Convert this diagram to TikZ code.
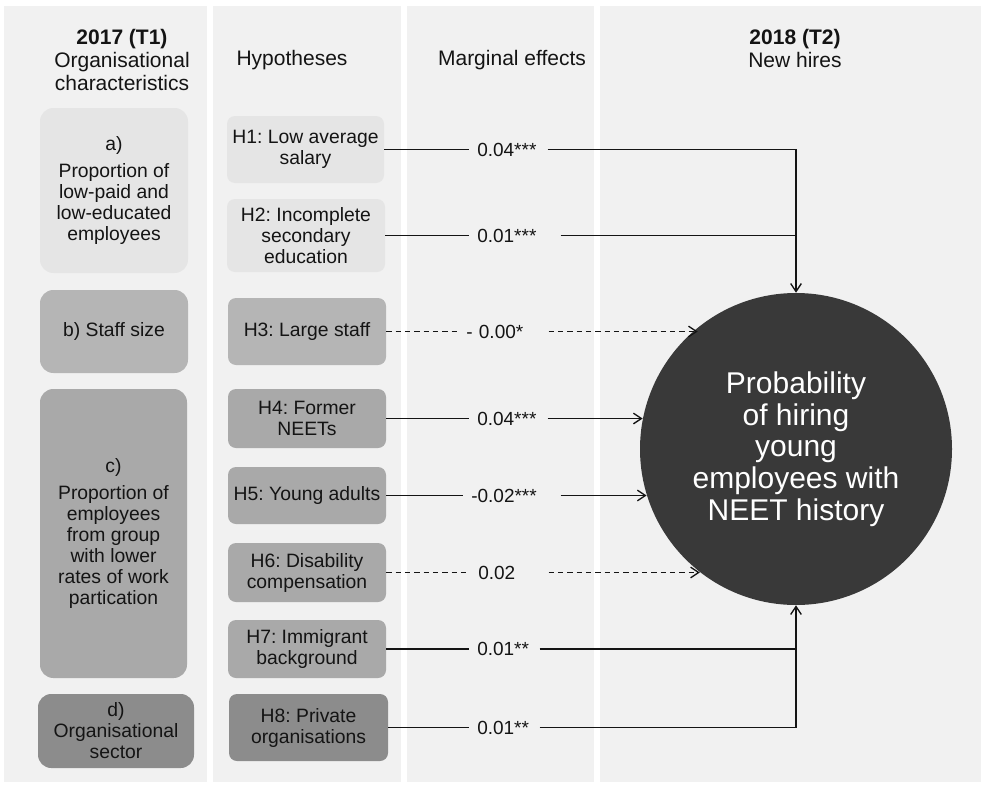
\documentclass[tikz,border=0pt]{standalone}
\usepackage{fontspec}
\setmainfont{Liberation Sans}
\frenchspacing
\usetikzlibrary{arrows.meta}
\definecolor{panel}{HTML}{F1F1F1}
\definecolor{boxA}{HTML}{E5E5E5}
\definecolor{boxB}{HTML}{B5B5B5}
\definecolor{boxC}{HTML}{A9A9A9}
\definecolor{boxD}{HTML}{8C8C8C}
\definecolor{circfill}{HTML}{393939}
\definecolor{ink}{HTML}{141414}
\tikzset{
  hbox/.style={rounded corners=6pt, align=center, inner sep=2pt, font=\fontsize{14.5}{15.75}\selectfont, text=ink},
  catbox/.style={hbox, rounded corners=10pt},
  headtxt/.style={align=center, font=\fontsize{15.75}{17}\selectfont, text=ink},
  lbl/.style={anchor=west, inner xsep=6pt, inner ysep=0pt, align=left, font=\fontsize{14.25}{15.75}\selectfont, text=ink},
  conn/.style={draw=ink, line width=1.1pt},
  dconn/.style={conn, dash pattern=on 4pt off 3pt},
  arr/.style={-{Straight Barb[length=6pt,width=8pt,line width=1pt]}},
}
\begin{document}
\begin{tikzpicture}[x=0.75pt,y=-0.75pt]
\useasboundingbox (0,0) rectangle (981,785);
\fill[white] (0,0) rectangle (981,785);
% column panels
\fill[panel] (4,6) rectangle (207,782);
\fill[panel] (213,6) rectangle (401,782);
\fill[panel] (407,6) rectangle (594,782);
\fill[panel] (600,6) rectangle (981,782);

% headings
\node[headtxt] (t1) at (122,60) {\textbf{2017 (T1)}\\Organisational\\characteristics};
\node[headtxt] (hyp) at (292,60) {Hypotheses};
\node[headtxt] (me) at (512,60) {Marginal effects};
\node[headtxt] (t2) at (795,48.5) {\textbf{2018 (T2)}\\New hires};

% category boxes
\node[catbox, fill=boxA, minimum width=111pt, minimum height=123.75pt] (ca) at (114,190.5)
  {a)\\[5pt]Proportion of\\low-paid and\\low-educated\\employees};
\node[catbox, fill=boxB, minimum width=111pt, minimum height=62.25pt] (cb) at (114,331.5)
  {b) Staff size};
\node[catbox, fill=boxC, minimum width=110.25pt, minimum height=216.75pt] (cc) at (113.5,533.5)
  {c)\\[5pt]Proportion of\\employees\\from group\\with lower\\rates of work\\partication};
\node[catbox, fill=boxD, minimum width=117pt, minimum height=55.5pt] (cd) at (116,731)
  {d)\\Organisational\\sector};

% hypothesis boxes
\node[hbox, fill=boxA, minimum width=117.75pt, minimum height=50.25pt] (h1) at (305.5,149.5) {H1: Low average\\salary};
\node[hbox, fill=boxA, minimum width=118.5pt, minimum height=54.75pt] (h2) at (306,235.5) {H2: Incomplete\\secondary\\education};
\node[hbox, fill=boxB, minimum width=118.5pt, minimum height=50.25pt] (h3) at (307,331.5) {H3: Large staff};
\node[hbox, fill=boxC, minimum width=118.5pt, minimum height=44.25pt] (h4) at (307,418.5) {H4: Former\\NEETs};
\node[hbox, fill=boxC, minimum width=118.5pt, minimum height=42.75pt] (h5) at (307,495.5) {H5: Young adults};
\node[hbox, fill=boxC, minimum width=118.5pt, minimum height=44.25pt] (h6) at (307,572.5) {H6: Disability\\compensation};
\node[hbox, fill=boxC, minimum width=118.5pt, minimum height=43.5pt] (h7) at (307,649) {H7: Immigrant\\background};
\node[hbox, fill=boxD, minimum width=119.25pt, minimum height=50.25pt] (h8) at (308.5,727.5) {H8: Private\\organisations};

% outcome circle
\node[circle, fill=circfill, minimum size=234pt, inner sep=0pt, text=white, align=center,
      font=\fontsize{22.5}{23.8}\selectfont] (circ) at (796,449)
  {Probability\\of hiring\\young\\employees with\\NEET history};

% effect labels
\node[lbl, text width=46.5pt] (l1) at (469,149.5) {0.04***};
\node[lbl, text width=56.25pt] (l2) at (469,235.5) {0.01***};
\node[lbl, text width=55.5pt] (l3) at (458,331.5) {- 0.00*};
\node[lbl, text width=46.5pt] (l4) at (469,418.5) {0.04***};
\node[lbl, text width=60.75pt] (l5) at (463,495.5) {-0.02***};
\node[lbl, text width=46.5pt] (l6) at (470,572.5) {0.02};
\node[lbl, text width=40.5pt] (l7) at (469,649) {0.01**};
\node[lbl, text width=40.5pt] (l8) at (469,727.5) {0.01**};

% connectors
\draw[conn] (h1.east) -- (l1.west);
\draw[conn, arr] (l1.east) -| (circ.north);
\draw[conn] (h2.east) -- (l2.west);
\draw[conn] (l2.east) -- (l2.east -| circ.north);

\draw[dconn] (h3.east) -- (l3.west);
\draw[dconn, arr] (l3.east) -- (l3.east -| circ.129);

\draw[conn] (h4.east) -- (l4.west);
\draw[conn, arr] (l4.east) -- (l4.east -| circ.169);

\draw[conn] (h5.east) -- (l5.west);
\draw[conn, arr] (l5.east) -- (l5.east -| circ.197);

\draw[dconn] (h6.east) -- (l6.west);
\draw[dconn, arr] (l6.east) -- (l6.east -| circ.232);

\draw[conn] (h7.east) -- (l7.west);
\draw[conn] (l7.east) -- (l7.east -| circ.south);
\draw[conn] (h8.east) -- (l8.west);
\draw[conn, arr] (l8.east) -| (circ.south);
\end{tikzpicture}
\end{document}
